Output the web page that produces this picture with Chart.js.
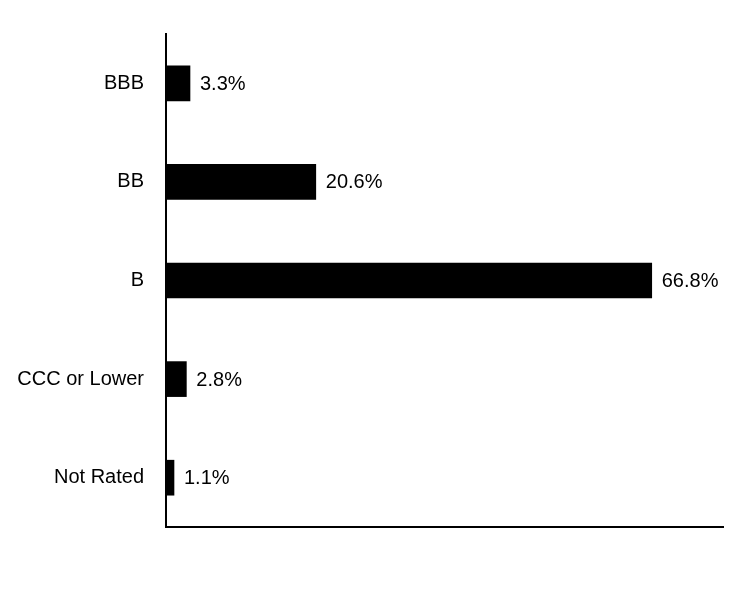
<!DOCTYPE html>
<html><head><script src="https://cdn.jsdelivr.net/npm/chart.js@4"></script>
<style>body{margin:0;background:#fff}#w{width:744px;height:600px}</style></head>
<body><div id="w"><canvas id="c"></canvas></div>
<script>
const categories = ["BBB","BB","B","CCC or Lower","Not Rated"];
const values = [3.3,20.6,66.8,2.8,1.1];
const valueLabels = ["3.3%","20.6%","66.8%","2.8%","1.1%"];
const labelPlugin = {id:'lbl',afterDatasetsDraw(chart){
  const ctx=chart.ctx; const meta=chart.getDatasetMeta(0);
  ctx.save(); ctx.font='20px "Liberation Sans", Arial'; ctx.fillStyle='#000';
  ctx.textAlign='left'; ctx.textBaseline='middle';
  meta.data.forEach((b,i)=>ctx.fillText(valueLabels[i], b.x+10, b.y+1));
  ctx.restore();}};
new Chart(document.getElementById('c'),{type:'bar',
 data:{labels:categories,datasets:[{data:values,backgroundColor:'#000',barThickness:35}]},
 options:{indexAxis:'y',responsive:true,maintainAspectRatio:false,animation:false,
  layout:{padding:{top:0,bottom:73,right:21,left:0}},
  plugins:{legend:{display:false},tooltip:{enabled:false}},
  scales:{
   x:{min:0,max:76.6,grid:{display:false,drawTicks:false},border:{color:'#000',width:2},ticks:{display:false}},
   y:{grid:{display:false,drawTicks:false},border:{color:'#000',width:2},
      ticks:{color:'#000',padding:22,font:{size:20,family:'"Liberation Sans", Arial'}},afterFit(s){s.width=166;}}
  }},plugins:[labelPlugin]});
</script></body></html>
